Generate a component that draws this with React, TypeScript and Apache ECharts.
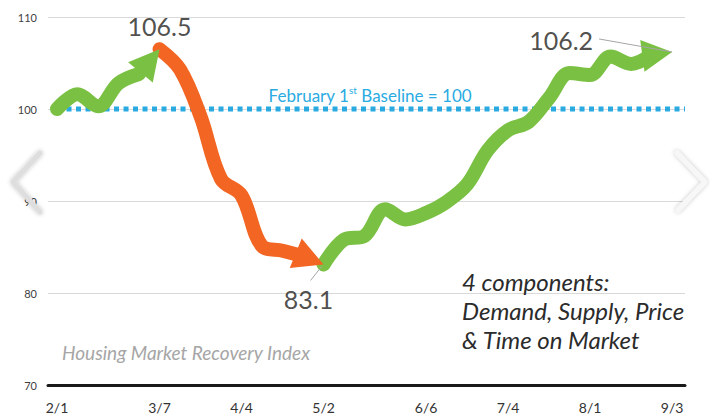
import { useEffect, useRef } from "react";
import * as echarts from "echarts";

// Weekly index readings (week 0 = Feb 1st)
const weekLabels = [
  "2/1", "2/8", "2/15", "2/22", "2/29", "3/7", "3/14", "3/21", "3/28", "4/4",
  "4/11", "4/18", "4/25", "5/2", "5/9", "5/16", "5/23", "5/30", "6/6", "6/13",
  "6/20", "6/27", "7/4", "7/11", "7/18", "7/25", "8/1", "8/8", "8/15", "8/22", "9/3",
];
const indexValues = [
  100.0, 101.6, 100.3, 102.8, 103.8, 106.5, 104.3, 99.2, 92.4, 90.6,
  85.1, 84.6, 84.0, 83.1, 85.8, 86.2, 89.1, 88.0, 88.7, 89.9,
  91.8, 95.5, 97.7, 98.6, 101.2, 103.9, 103.7, 105.7, 104.9, 105.9, 106.2,
];
const tickWeeks = [0, 5, 9, 13, 18, 22, 26, 30];
const yTicks = [70, 80, 90, 100, 110];
const baselineValue = 100;
// phases: rise (green), decline (orange), recovery (green)
const phaseBreaks = [0, 5, 13, 30];
const calloutWeeks = [5, 13, 30];

const GREEN = "#7ac143";
const ORANGE = "#f26522";
const BLUE = "#29abe2";
const phaseColors = [GREEN, ORANGE, GREEN];
const FONT = "Lato, 'Noto Sans', sans-serif";

const X_MIN = -0.44;
const X_MAX = 30.63;

function range(a: number, b: number) {
  const r: number[] = [];
  for (let i = a; i <= b; i++) r.push(i);
  return r;
}

export default function App() {
  const ref = useRef<HTMLDivElement>(null);

  useEffect(() => {
    const chart = echarts.init(ref.current!, null, { renderer: "svg" });
    const pt = (i: number) => [i, indexValues[i]];

    const baseOption: any = {
      animation: false,
      backgroundColor: "#ffffff",
      grid: {
        left: 48,
        right: 25,
        top: 17,
        bottom: 34,
        containLabel: false,
        outerBoundsMode: "none",
      },
      xAxis: {
        type: "value",
        min: X_MIN,
        max: X_MAX,
        axisLine: { show: true, lineStyle: { color: "#1a1a1a", width: 3 } },
        axisTick: { show: false },
        splitLine: { show: false },
        axisLabel: {
          customValues: tickWeeks,
          formatter: (v: number) => weekLabels[Math.round(v)],
          fontSize: 14,
          color: "#333333",
          margin: 15,
          fontFamily: FONT,
        },
      },
      yAxis: {
        type: "value",
        min: yTicks[0],
        max: yTicks[yTicks.length - 1],
        interval: 10,
        axisLine: { show: false },
        axisTick: { show: false },
        axisLabel: { fontSize: 11, color: "#404040", margin: 11, fontFamily: FONT },
        splitLine: { lineStyle: { color: "#d9d9d9", width: 1 } },
      },
      series: [] as any[],
    };

    const baselineSeries = {
      type: "line",
      name: "baseline",
      data: [
        [0, baselineValue],
        [X_MAX, baselineValue],
      ],
      symbol: "none",
      silent: true,
      lineStyle: { color: BLUE, width: 5, type: [5, 4.5], cap: "butt" },
      z: 2,
    };

    const phaseSeries = phaseColors.map((c, k) => ({
      type: "line",
      name: "phase" + k,
      data: range(phaseBreaks[k], phaseBreaks[k + 1] - 1).map(pt),
      smooth: 0.35,
      symbol: "none",
      silent: true,
      lineStyle: { color: c, width: 14, cap: "round", join: "round" },
      z: 3,
    }));

    baseOption.series = [baselineSeries, ...phaseSeries];
    chart.setOption(baseOption);

    const px = (i: number) =>
      chart.convertToPixel({ gridIndex: 0 } as any, pt(i)) as number[];

    const AW = 32;
    const AH = 30;
    const arrowData = calloutWeeks.map((i, k) => {
      const p1 = px(i - 1);
      const p2 = px(i);
      const dx = p2[0] - p1[0];
      const dy = p2[1] - p1[1];
      const len = Math.hypot(dx, dy) || 1;
      const ux = dx / len;
      const uy = dy / len;
      const rot = -90 - (Math.atan2(dy, dx) * 180) / Math.PI;
      return {
        value: pt(i),
        symbolRotate: rot,
        symbolOffset: [-ux * AH / 2, -uy * AH / 2],
        itemStyle: { color: phaseColors[k], opacity: 1 },
      };
    });

    const arrowSeries = {
      type: "scatter",
      name: "arrows",
      data: arrowData,
      symbol: "triangle",
      symbolSize: [AW, AH],
      itemStyle: { opacity: 1 },
      silent: true,
      z: 4,
    };

    const labelOffsets = [
      [0, -23],
      [-15, 35],
      [-111, -12],
    ];
    const labelSeries = {
      type: "scatter",
      name: "callouts",
      data: calloutWeeks.map((i, k) => ({
        value: pt(i),
        label: { offset: labelOffsets[k] },
      })),
      symbol: "circle",
      symbolSize: 1,
      itemStyle: { color: "rgba(0,0,0,0)" },
      silent: true,
      label: {
        show: true,
        position: "inside",
        formatter: (p: any) => Number(p.value[1]).toFixed(1),
        fontSize: 25,
        color: "#231f20",
        fontFamily: FONT,
      },
      z: 6,
    };

    const tipLow = px(13);
    const tipEnd = px(30);

    const chevron = (pts: number[][], stroke: string) => ({
      type: "polyline",
      shape: { points: pts },
      style: {
        stroke,
        lineWidth: 5,
        fill: null,
        lineCap: "round",
        lineJoin: "round",
        shadowBlur: 4,
        shadowColor: "rgba(0,0,0,0.25)",
      },
      z: 20,
      silent: true,
    });

    const fullOption = {
      ...baseOption,
      series: [baselineSeries, ...phaseSeries, arrowSeries, labelSeries],
      graphic: [
        {
          type: "line",
          shape: {
            x1: tipEnd[0] - 73,
            y1: tipEnd[1] - 13,
            x2: tipEnd[0],
            y2: tipEnd[1],
          },
          style: { stroke: "#a6a6a6", lineWidth: 1 },
          z: 5,
        },
        {
          type: "line",
          shape: {
            x1: tipLow[0] - 13,
            y1: tipLow[1] + 16,
            x2: tipLow[0] - 2,
            y2: tipLow[1] + 2,
          },
          style: { stroke: "#a6a6a6", lineWidth: 1 },
          z: 5,
        },
        {
          type: "text",
          x: 370,
          y: 95,
          style: {
            text: "{a|February 1}{s|st}{a| Baseline = 100}",
            align: "center",
            verticalAlign: "middle",
            rich: {
              a: { fontSize: 17, fill: BLUE, fontFamily: FONT, lineHeight: 20 },
              s: {
                fontSize: 10,
                fill: BLUE,
                fontFamily: FONT,
                lineHeight: 12,
                verticalAlign: "top",
              },
            },
          },
          z: 6,
        },
        {
          type: "text",
          x: 62,
          y: 352,
          style: {
            text: "Housing Market Recovery Index",
            fontSize: 19,
            fontStyle: "italic",
            fill: "#a6a6a6",
            fontFamily: FONT,
            verticalAlign: "middle",
          },
          z: 6,
        },
        {
          type: "text",
          x: 462,
          y: 267,
          style: {
            text: "4 components:\nDemand, Supply, Price\n& Time on Market",
            fontSize: 24,
            lineHeight: 29,
            fontStyle: "italic",
            fill: "#2b2b2b",
            fontFamily: FONT,
            verticalAlign: "top",
          },
          z: 6,
        },
        chevron(
          [
            [40, 153],
            [13, 182],
            [40, 212],
          ],
          "#dedede"
        ),
        chevron(
          [
            [677, 153],
            [705, 182],
            [678, 210],
          ],
          "#f7f7f7"
        ),
      ],
    };

    chart.setOption(fullOption, true);

    return () => chart.dispose();
  }, []);

  return (
    <div
      ref={ref}
      style={{ position: "fixed", left: 0, top: 0, width: 710, height: 419 }}
    />
  );
}
